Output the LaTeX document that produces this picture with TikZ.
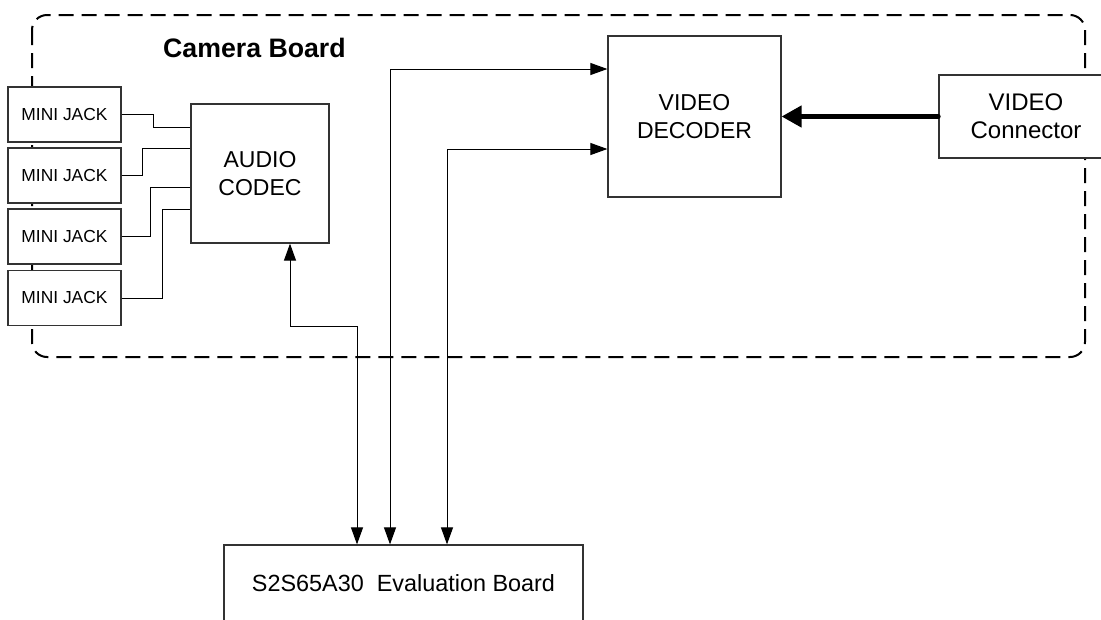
\documentclass[tikz,border=0pt]{standalone}
\usepackage{fontspec}
\setmainfont{Liberation Sans}
\usetikzlibrary{arrows.meta,calc,positioning}
\tikzset{
  wire/.style={black,line width=1pt},
  flow/.style={wire,{Triangle[length=17pt,width=12pt]}-{Triangle[length=17pt,width=12pt]}},
  bigflow/.style={black,line width=4.5pt,line cap=round,-{Triangle[length=20pt,width=21pt]}},
  frame/.style={black,line width=2pt,dash pattern=on 15pt off 8pt,rounded corners=15pt},
  block/.style={draw=black!80,line width=1.2pt,fill=white,inner sep=0pt,align=center,
                font=\fontsize{23}{28}\selectfont},
  jack/.style={block,minimum width=113pt,minimum height=55pt,font=\fontsize{17.4}{20}\selectfont},
  lab/.style={font=\fontsize{26.7}{30}\selectfont\bfseries,inner sep=0pt},
}
\begin{document}
\begin{tikzpicture}[x=1pt,y=-1pt]
  \useasboundingbox (0,0) rectangle (1101,619);
  \draw[frame] (32,15) rectangle (1085,357);
  \node[lab,anchor=base west] (title) at (163,57) {Camera Board};

  \node[jack] (jack1) at (64.5,114.5) {MINI JACK};
  \node[jack] (jack2) at (64.5,175.5) {MINI JACK};
  \node[jack] (jack3) at (64.5,236.5) {MINI JACK};
  \node[jack] (jack4) at (64.5,298) {MINI JACK};
  \node[block,minimum width=138pt,minimum height=139pt] (codec) at (260,173.5) {AUDIO\\CODEC};
  \node[block,minimum width=173pt,minimum height=161pt] (decoder) at (694.5,116.5) {VIDEO\\DECODER};
  \node[block,minimum width=174pt,minimum height=83pt,font=\fontsize{24}{28}\selectfont] (conn) at (1026,116.5) {VIDEO\\Connector};
  \node[block,minimum width=359pt,minimum height=76pt,font=\fontsize{23.4}{28}\selectfont] (eval) at (403.5,583) {S2S65A30\ \ Evaluation Board};

  % jacks into the codec
  \draw[wire] (jack1.east) -- ++(32,0) |- (codec.west |- 0,127);
  \draw[wire] (jack2.east) -- ++(21,0) |- (codec.west |- 0,148);
  \draw[wire] (jack3.east) -- ++(29,0) |- (codec.west |- 0,187);
  \draw[wire] (jack4.east) -- ++(41,0) |- (codec.west |- 0,209);

  % links to the evaluation board
  \draw[flow] (eval.north -| 357,0) |- (290,326) -- (codec.south -| 290,0);
  \draw[flow] (eval.north -| 390,0) |- (decoder.west |- 0,69);
  \draw[flow] (eval.north -| 447,0) |- (decoder.west |- 0,149);

  \draw[bigflow] (conn.west) -- (decoder.east);
\end{tikzpicture}
\end{document}
